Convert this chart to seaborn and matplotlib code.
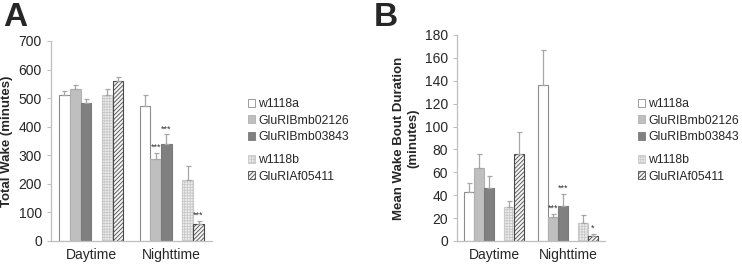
import numpy as np
import pandas as pd
import matplotlib
matplotlib.use('Agg')
import matplotlib.pyplot as plt
import seaborn as sns
from matplotlib.patches import Patch

# data
periods = ['Daytime', 'Nighttime']
genotypes = ['w1118a', 'GluRIBmb02126', 'GluRIBmb03843', 'w1118b', 'GluRIAf05411']

wake_day = [510, 531, 484, 512, 561]
wake_night = [474, 288, 341, 215, 58]
wake_day_err = [15, 14, 14, 19, 14]
wake_night_err = [37, 21, 32, 47, 12]
wake_day_stars = ['', '', '', '', '']
wake_night_stars = ['', '***', '***', '', '***']

bout_day = [42.6, 64.2, 46.0, 29.8, 76.0]
bout_night = [136.0, 20.7, 30.3, 16.0, 4.4]
bout_day_err = [8.5, 12, 11, 5, 19]
bout_night_err = [30.5, 3, 11, 7, 1.5]
bout_day_stars = ['', '', '', '', '']
bout_night_stars = ['', '***', '***', '', '*']

# styling
gap = ' '
hue_levels = genotypes[:3] + [gap] + genotypes[3:]
face = {'w1118a': 'white', 'GluRIBmb02126': '#bfbfbf', 'GluRIBmb03843': '#808080',
        'w1118b': '#eeeeee', 'GluRIAf05411': '#f4f4f4', gap: 'white'}
edge = {'w1118a': '#8c8c8c', 'GluRIBmb02126': '#b0b0b0', 'GluRIBmb03843': '#7a7a7a',
        'w1118b': '#c8c8c8', 'GluRIAf05411': '#4a4a4a', gap: 'white'}
hatch = {'w1118a': None, 'GluRIBmb02126': None, 'GluRIBmb03843': None,
         'w1118b': '++++++', 'GluRIAf05411': '////////', gap: None}

sns.set_style('white')
plt.rcParams['font.family'] = ['Liberation Sans', 'DejaVu Sans']
plt.rcParams['hatch.linewidth'] = 0.6


def draw_panel(ax, day, night, day_err, night_err, day_stars, night_stars, ymax, ystep, ylabel):
    df = pd.DataFrame({
        'period': np.repeat(periods, len(genotypes)),
        'genotype': genotypes * 2,
        'value': day + night,
    })
    sns.barplot(data=df, x='period', y='value', hue='genotype', order=periods,
                hue_order=hue_levels, palette=face, width=0.8, saturation=1,
                errorbar=None, legend=False, ax=ax)
    bars = [p for p in ax.patches if np.isfinite(p.get_height()) and p.get_height() > 0]
    bars = sorted(bars, key=lambda p: p.get_x())
    vals = day + night
    errs = day_err + night_err
    stars = day_stars + night_stars
    for i, p in enumerate(bars):
        g = genotypes[i % len(genotypes)]
        p.set_facecolor(face[g])
        p.set_edgecolor(edge[g])
        p.set_linewidth(0.8)
        if hatch[g]:
            p.set_hatch(hatch[g])
        cx = p.get_x() + p.get_width() / 2
        ax.errorbar(cx, vals[i], yerr=[[0], [errs[i]]], fmt='none', ecolor='#a6a6a6',
                    elinewidth=0.9, capsize=1.8, capthick=0.9)
        if stars[i]:
            ax.text(cx, vals[i] + errs[i] + ymax * 0.005, stars[i], ha='center', va='bottom',
                    fontsize=6.5, color='#333333')
    ax.set_xlim(-0.5, 1.5)
    ax.set_ylim(0, ymax)
    ax.set_yticks(np.arange(0, ymax + 1, ystep))
    ax.set_xlabel('')
    ax.set_ylabel(ylabel, fontsize=9.5, fontweight='bold', labelpad=4)
    ax.set_xticks([0, 1])
    ax.set_xticks([0.5], minor=True)
    ax.tick_params(axis='x', which='major', length=0, labelsize=10, pad=5)
    ax.tick_params(axis='x', which='minor', length=3, color='#bfbfbf', direction='out')
    ax.tick_params(axis='y', length=3, color='#bfbfbf', labelsize=10, direction='out', left=True)
    for s in ['top', 'right']:
        ax.spines[s].set_visible(False)
    for s in ['left', 'bottom']:
        ax.spines[s].set_color('#bfbfbf')
        ax.spines[s].set_linewidth(0.9)


def add_legends(fig, x, y_top1, y_top2):
    h1 = [Patch(facecolor=face[g], edgecolor=edge[g], hatch=hatch[g], linewidth=0.6) for g in genotypes[:3]]
    h2 = [Patch(facecolor=face[g], edgecolor=edge[g], hatch=hatch[g], linewidth=0.6) for g in genotypes[3:]]
    kw = dict(frameon=False, fontsize=8.8, handlelength=0.6, handleheight=0.6,
              handletextpad=0.25, labelspacing=0.38, borderaxespad=0, borderpad=0)
    fig.legend(h1, genotypes[:3], loc='upper left', bbox_to_anchor=(x, y_top1), **kw)
    fig.legend(h2, genotypes[3:], loc='upper left', bbox_to_anchor=(x, y_top2), **kw)


fig = plt.figure(figsize=(7.42, 2.64), dpi=100)
W, H = 742, 264
axA = fig.add_axes([51 / W, 1 - 241 / H, 161 / W, 200 / H])
axB = fig.add_axes([457 / W, 1 - 241 / H, 148 / W, 206 / H])

draw_panel(axA, wake_day, wake_night, wake_day_err, wake_night_err,
           wake_day_stars, wake_night_stars, 700, 100, 'Total Wake (minutes)')
draw_panel(axB, bout_day, bout_night, bout_day_err, bout_night_err,
           bout_day_stars, bout_night_stars, 180, 20, 'Mean Wake Bout Duration\n(minutes)')

add_legends(fig, 248 / W, 1 - 98 / H, 1 - 154 / H)
add_legends(fig, 638 / W, 1 - 98 / H, 1 - 154 / H)

fig.text(3 / W, 1 - 2 / H, 'A', fontsize=24, fontweight='bold', va='top', ha='left')
fig.text(374 / W, 1 - 2 / H, 'B', fontsize=24, fontweight='bold', va='top', ha='left')

fig.savefig('out.png', dpi=100)
